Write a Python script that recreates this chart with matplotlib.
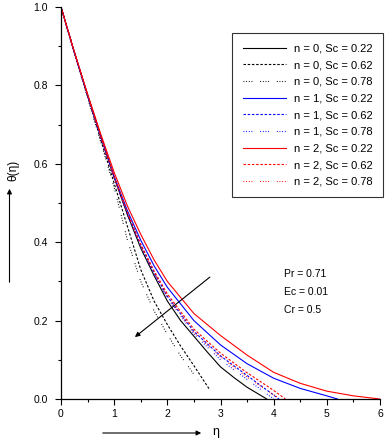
import matplotlib
matplotlib.use("Agg")
import matplotlib.pyplot as plt
from matplotlib.ticker import MultipleLocator, FormatStrFormatter

plt.rcParams['font.family'] = ['Liberation Sans', 'DejaVu Sans']

# ---- data ----
eta_n0_sc022 = [0, 0.25, 0.5, 0.75, 1.0, 1.25, 1.5, 1.75, 2.0, 2.25, 2.5, 2.75, 3.0, 3.25, 3.5, 3.87]
th_n0_sc022 = [1.0, 0.885, 0.775, 0.67, 0.565, 0.47, 0.385, 0.315, 0.25, 0.2, 0.16, 0.12, 0.082, 0.055, 0.03, 0.0]

eta_n0_sc062 = [0, 0.25, 0.5, 0.75, 1.0, 1.25, 1.5, 1.75, 2.0, 2.25, 2.5, 2.8]
th_n0_sc062 = [1.0, 0.885, 0.772, 0.66, 0.55, 0.44, 0.33, 0.25, 0.19, 0.135, 0.085, 0.023]

eta_n0_sc078 = [0, 0.25, 0.5, 0.75, 1.0, 1.25, 1.5, 1.75, 2.0, 2.25, 2.58]
th_n0_sc078 = [1.0, 0.883, 0.768, 0.655, 0.54, 0.405, 0.3, 0.225, 0.165, 0.11, 0.048]

eta_n1_sc022 = [0, 0.25, 0.5, 0.75, 1.0, 1.25, 1.5, 1.75, 2.0, 2.5, 3.0, 3.5, 4.0, 4.5, 5.0, 5.2]
th_n1_sc022 = [1.0, 0.884, 0.775, 0.668, 0.568, 0.48, 0.405, 0.34, 0.285, 0.2, 0.138, 0.09, 0.053, 0.027, 0.008, 0.0]

eta_n1_sc062 = [0, 0.25, 0.5, 0.75, 1.0, 1.25, 1.5, 1.75, 2.0, 2.5, 3.0, 3.5, 4.1]
th_n1_sc062 = [1.0, 0.885, 0.775, 0.668, 0.565, 0.472, 0.392, 0.322, 0.262, 0.172, 0.11, 0.06, 0.0]

eta_n1_sc078 = [0, 0.25, 0.5, 0.75, 1.0, 1.25, 1.5, 1.75, 2.0, 2.5, 3.0, 3.5, 4.0]
th_n1_sc078 = [1.0, 0.885, 0.775, 0.667, 0.565, 0.47, 0.388, 0.318, 0.258, 0.166, 0.1, 0.05, 0.0]

eta_n2_sc022 = [0, 0.25, 0.5, 0.75, 1.0, 1.25, 1.5, 1.75, 2.0, 2.5, 3.0, 3.5, 4.0, 4.5, 5.0, 5.5, 6.0]
th_n2_sc022 = [1.0, 0.886, 0.778, 0.675, 0.578, 0.492, 0.42, 0.355, 0.3, 0.218, 0.162, 0.112, 0.068, 0.04, 0.02, 0.008, 0.0]

eta_n2_sc062 = [0, 0.25, 0.5, 0.75, 1.0, 1.25, 1.5, 1.75, 2.0, 2.5, 3.0, 3.5, 4.0, 4.22]
th_n2_sc062 = [1.0, 0.886, 0.776, 0.669, 0.567, 0.475, 0.395, 0.327, 0.268, 0.178, 0.117, 0.067, 0.022, 0.0]

eta_n2_sc078 = [0, 0.25, 0.5, 0.75, 1.0, 1.25, 1.5, 1.75, 2.0, 2.5, 3.0, 3.5, 4.12]
th_n2_sc078 = [1.0, 0.885, 0.775, 0.668, 0.566, 0.473, 0.39, 0.322, 0.262, 0.17, 0.108, 0.056, 0.0]

labels = ["n = 0, Sc = 0.22", "n = 0, Sc = 0.62", "n = 0, Sc = 0.78",
          "n = 1, Sc = 0.22", "n = 1, Sc = 0.62", "n = 1, Sc = 0.78",
          "n = 2, Sc = 0.22", "n = 2, Sc = 0.62", "n = 2, Sc = 0.78"]
params_text = ["Pr = 0.71", "Ec = 0.01", "Cr = 0.5"]

series = [(eta_n0_sc022, th_n0_sc022), (eta_n0_sc062, th_n0_sc062), (eta_n0_sc078, th_n0_sc078),
          (eta_n1_sc022, th_n1_sc022), (eta_n1_sc062, th_n1_sc062), (eta_n1_sc078, th_n1_sc078),
          (eta_n2_sc022, th_n2_sc022), (eta_n2_sc062, th_n2_sc062), (eta_n2_sc078, th_n2_sc078)]

colors = ['black'] * 3 + ['#0000ff'] * 3 + ['#ff0000'] * 3
dash = (0, (2.2, 1.6))
dot = (0, (0.8, 1.6, 0.8, 1.6, 0.8, 1.6, 0.8, 7))
styles = ['-', dash, dot] * 3

fig = plt.figure(figsize=(3.87, 4.42), dpi=100)
ax = fig.add_axes([61/387, 1 - 399/442, (380 - 61)/387, (399 - 7)/442])

for (x, y), c, ls, lab in zip(series, colors, styles, labels):
    ax.plot(x, y, color=c, linestyle=ls, linewidth=0.8, label=lab)

ax.set_xlim(0, 6)
ax.set_ylim(0, 1.0)
ax.spines['top'].set_visible(False)
ax.spines['right'].set_visible(False)
for s in ['left', 'bottom']:
    ax.spines[s].set_linewidth(0.9)
ax.xaxis.set_major_locator(MultipleLocator(1))
ax.xaxis.set_minor_locator(MultipleLocator(0.5))
ax.yaxis.set_major_locator(MultipleLocator(0.2))
ax.yaxis.set_minor_locator(MultipleLocator(0.1))
ax.yaxis.set_major_formatter(FormatStrFormatter('%.1f'))
ax.tick_params(which='major', direction='out', length=4.5, width=0.8, labelsize=7.5)
ax.tick_params(which='minor', direction='out', length=2.5, width=0.8)
ax.tick_params(axis='y', which='major', pad=5)
ax.tick_params(axis='x', which='major', pad=2.5)

leg = ax.legend(loc='upper right', bbox_to_anchor=(383/387, 1 - 33/442),
                bbox_transform=fig.transFigure, fontsize=8, frameon=True,
                fancybox=False, edgecolor='black', handlelength=3.9,
                labelspacing=0.6, borderpad=0.95, handletextpad=0.7, borderaxespad=0)
leg.get_frame().set_linewidth(0.8)

for i, t in enumerate(params_text):
    ax.text(4.2, 0.32 - i * 0.046, t, fontsize=7.5, ha='left', va='center')

ax.annotate('', xy=(1.39, 0.158), xytext=(2.8, 0.311),
            arrowprops=dict(arrowstyle='-|>', color='black', lw=0.8,
                            mutation_scale=7, shrinkA=0, shrinkB=0))

# axis labels with arrows
fig.text(13/387, 1 - 170/442, 'θ(η)', rotation=90, fontsize=8.5, ha='center', va='center')
fig.add_artist(matplotlib.patches.FancyArrowPatch((9.5/387, 1 - 285/442), (9.5/387, 1 - 186/442),
               transform=fig.transFigure, arrowstyle='-|>', mutation_scale=7, lw=0.8, color='black'))
fig.text(216/387, 1 - 432/442, 'η', fontsize=9, ha='center', va='center')
fig.add_artist(matplotlib.patches.FancyArrowPatch((100/387, 1 - 433/442), (204/387, 1 - 433/442),
               transform=fig.transFigure, arrowstyle='-|>', mutation_scale=7, lw=0.8, color='black'))

fig.savefig('out.png', dpi=100)
